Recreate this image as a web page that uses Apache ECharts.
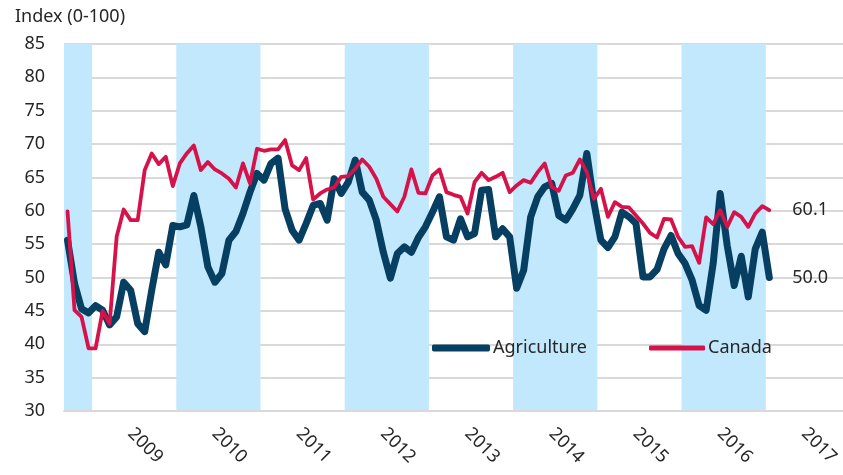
<!DOCTYPE html>
<html>
<head>
<meta charset="utf-8">
<script src="https://cdn.jsdelivr.net/npm/echarts@6/dist/echarts.min.js"></script>
<style>
  html, body { margin: 0; padding: 0; background: #fff; }
  #chart { width: 843px; height: 475px; }
</style>
</head>
<body>
<div id="chart"></div>
<script>
// monthly, Sep 2008 .. Nov 2017 (axis runs past the last reading)
const startYear = 2008, startMonth = 9, monthCount = 111;
const months = [];
for (let i = 0; i < monthCount; i++) {
  const m = startMonth - 1 + i;
  const y = startYear + Math.floor(m / 12);
  const mm = (m % 12) + 1;
  months.push(y + '-' + (mm < 10 ? '0' + mm : mm));
}

const shadedYears = [2008, 2010, 2012, 2014, 2016];

const agriculture = [
  55.6, 49.1, 45.3, 44.7, 45.8, 45.1, 42.9, 44.1, 49.3, 48.1,
  43.1, 41.9, 48.1, 53.8, 51.9, 57.8, 57.6, 57.9, 62.3, 57.6,
  51.6, 49.3, 50.6, 55.6, 56.9, 59.6, 62.8, 65.6, 64.6, 67.1,
  67.9, 60.3, 57.1, 55.6, 58.1, 60.8, 61.1, 58.6, 64.8, 62.6,
  64.3, 67.6, 62.8, 61.6, 58.6, 53.8, 49.9, 53.6, 54.6, 53.8,
  56.0, 57.6, 59.8, 62.1, 56.1, 55.6, 58.8, 56.1, 56.6, 63.1,
  63.2, 56.1, 57.3, 56.1, 48.4, 51.1, 59.1, 62.1, 63.6, 64.1,
  59.3, 58.6, 60.3, 62.3, 68.6, 61.3, 55.6, 54.5, 56.1, 59.8,
  59.1, 58.1, 50.1, 50.1, 51.2, 54.3, 56.3, 53.6, 52.1, 49.6,
  45.8, 45.1, 52.1, 62.6, 54.8, 48.8, 53.2, 47.1, 54.3, 56.8,
  50.0
];

const canada = [
  59.9, 45.1, 44.1, 39.4, 39.4, 45.0, 43.1, 56.1, 60.2, 58.6,
  58.6, 66.1, 68.6, 67.0, 68.1, 63.7, 67.1, 68.6, 69.8, 66.1,
  67.3, 66.2, 65.6, 64.8, 63.5, 67.1, 64.1, 69.3, 69.0, 69.2,
  69.2, 70.6, 66.8, 66.1, 67.9, 61.7, 62.6, 63.2, 63.5, 65.1,
  65.2, 66.3, 67.7, 66.6, 64.8, 62.1, 61.0, 59.9, 62.1, 66.2,
  62.7, 62.6, 65.3, 66.2, 62.8, 62.4, 62.1, 59.6, 64.3, 65.7,
  64.6, 65.1, 65.7, 62.8, 63.8, 64.6, 64.2, 65.8, 67.1, 63.6,
  63.0, 65.3, 65.7, 67.7, 65.8, 61.8, 63.3, 59.1, 61.3, 60.6,
  60.5, 59.3, 58.1, 56.7, 56.0, 58.8, 58.7, 56.1, 54.6, 54.7,
  52.2, 59.0, 58.0, 60.1, 57.6, 59.8, 59.1, 57.6, 59.6, 60.7,
  60.1
];

// shaded years as month-index ranges on a hidden value axis spanning the category axis
const bandAreas = shadedYears.map(yr => {
  const idx = months.map((m, i) => +m.slice(0, 4) === yr ? i : -1).filter(i => i >= 0);
  return [{ xAxis: idx[0] }, { xAxis: idx[idx.length - 1] + 1 }];
});

const textColor = '#262626';
const fontFamily = '"Noto Sans", "Open Sans", sans-serif';

let myChart = echarts.init(document.getElementById('chart'));

let option = {
  animation: false,
  textStyle: { fontFamily: fontFamily, color: textColor },
  title: {
    text: 'Index (0-100)',
    left: 10,
    top: 3,
    textStyle: { fontSize: 18, fontWeight: 'normal', color: textColor, fontFamily: fontFamily }
  },
  legend: [
    {
      data: ['Agriculture'],
      left: 427,
      top: 334,
      icon: 'roundRect',
      itemWidth: 58,
      itemHeight: 7,
      textStyle: { fontSize: 18, color: textColor, padding: [0, 0, 0, -2] }
    },
    {
      data: ['Canada'],
      left: 644,
      top: 334,
      icon: 'roundRect',
      itemWidth: 56,
      itemHeight: 5,
      textStyle: { fontSize: 18, color: textColor, padding: [0, 0, 0, -2] }
    }
  ],
  grid: {
    left: 64,
    right: 0,
    top: 44,
    bottom: 64
  },
  xAxis: [
    {
      type: 'category',
      data: months,
      boundaryGap: true,
      axisLine: { lineStyle: { color: '#d9d9d9', width: 2 } },
      axisTick: { show: false },
      axisLabel: {
        interval: (idx, val) => val.slice(5) === '06',
        formatter: val => val.slice(0, 4),
        rotate: -45,
        margin: 20,
        fontSize: 18,
        color: textColor
      },
      splitLine: { show: false },
      z: 5
    },
    {
      type: 'value',
      min: 0,
      max: monthCount,
      show: false
    }
  ],
  yAxis: {
    type: 'value',
    min: 30,
    max: 85,
    interval: 5,
    axisLine: { show: false },
    axisTick: { show: false },
    axisLabel: { fontSize: 18, color: textColor, margin: 19 },
    splitLine: { lineStyle: { color: '#d9d9d9', width: 2 } }
  },
  series: [
    {
      name: 'bands',
      type: 'line',
      xAxisIndex: 1,
      data: [],
      silent: true,
      markArea: {
        silent: true,
        itemStyle: { color: '#c2e8fd' },
        data: bandAreas
      },
      z: 1
    },
    {
      name: 'Agriculture',
      type: 'line',
      data: agriculture,
      symbol: 'none',
      itemStyle: { color: '#063f61' },
      lineStyle: { color: '#063f61', width: 7, cap: 'round', join: 'round' },
      endLabel: {
        show: true,
        distance: 23,
        fontSize: 18,
        color: textColor,
        formatter: p => p.value.toFixed(1)
      },
      z: 3
    },
    {
      name: 'Canada',
      type: 'line',
      data: canada,
      symbol: 'none',
      itemStyle: { color: '#d6124a' },
      lineStyle: { color: '#d6124a', width: 3.8, cap: 'round', join: 'round' },
      endLabel: {
        show: true,
        distance: 23,
        fontSize: 18,
        color: textColor,
        formatter: p => p.value.toFixed(1)
      },
      z: 4
    }
  ]
};

option && myChart.setOption(option);
</script>
</body>
</html>
